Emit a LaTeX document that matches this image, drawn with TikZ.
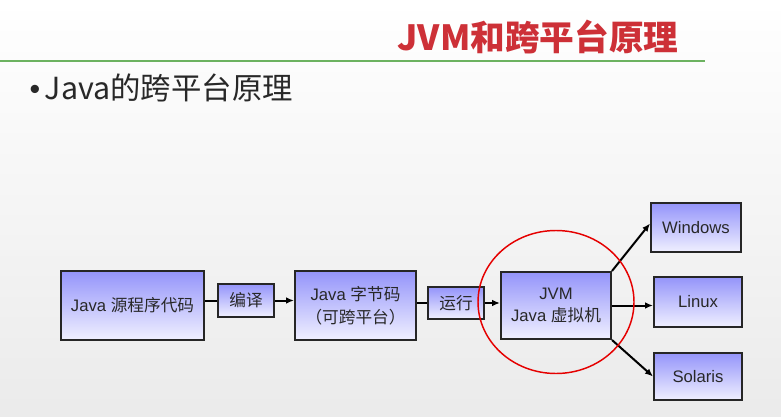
\documentclass[tikz,border=0pt]{standalone}
\usepackage{fontspec}
\setmainfont{Liberation Sans}
\newfontfamily\cjk{Noto Sans CJK SC}
\usetikzlibrary{arrows.meta}

\definecolor{boxtop}{RGB}{148,148,250}
\definecolor{boxbot}{RGB}{240,240,255}
\definecolor{titlered}{RGB}{205,48,55}
\definecolor{rulegreen}{RGB}{108,178,96}
\definecolor{ink}{RGB}{40,40,40}

\tikzset{every picture/.style={line width=0.75pt}}
\tikzset{
  box/.style={draw=black!85, line width=1.5pt, top color=boxtop, bottom color=boxbot,
    inner sep=0pt, align=center, text=ink, font=\fontsize{12.5}{17}\selectfont},
  link/.style={draw=black, line width=1.5pt},
  arr/.style={link, -{Latex[length=6pt,width=5pt]}}
}

\begin{document}
\begin{tikzpicture}[x=0.75pt,y=0.75pt,yscale=-1,xscale=1]
%background
\fill[top color=white, bottom color=black!8] (0,0) rectangle (781,417);
\useasboundingbox (0,0) rectangle (781,417);

% Title
\node (title) at (538,37) [text=titlered, font=\cjk\bfseries\fontsize{26}{30}\selectfont] {JVM和跨平台原理};
\draw [rulegreen, line width=1pt] (0,61) -- (705,61);
% Bullet
\node (point) at (29,88) [anchor=west, inner sep=0pt, text=ink, font=\cjk\fontsize{22.8}{26}\selectfont] {{\fontspec{Liberation Sans}•}\hspace{3.5pt}Java的跨平台原理};

% Boxes
\node (src) at (132.5,305.5) [box, minimum width=107.25pt, minimum height=51.75pt] {Java {\cjk 源程序代码}};
\node (bianyi) at (246,300.5) [box, minimum width=42pt, minimum height=24.75pt] {\cjk 编译};
\node (bytecode) at (355.5,305.5) [box, minimum width=90.75pt, minimum height=51.75pt] {Java {\cjk 字节码}\\{\cjk （可跨平台）}};
\node (yunxing) at (456,303) [box, minimum width=42pt, minimum height=24pt] {\cjk 运行};
\node (jvm) at (556,305.5) [box, minimum width=82.5pt, minimum height=50.25pt] {JVM\\Java {\cjk 虚拟机}};
\node (win) at (696,227.5) [box, minimum width=67.5pt, minimum height=36.75pt] {Windows};
\node (linux) at (698,302) [box, minimum width=66pt, minimum height=37.5pt] {Linux};
\node (solaris) at (698,376.5) [box, minimum width=66pt, minimum height=35.25pt] {Solaris};

% Connectors
\draw [link] (src.east |- bianyi.west) -- (bianyi.west);
\draw [arr] (bianyi.east) -- (bytecode.west |- bianyi.east);
\draw [link] (bytecode.east |- yunxing.west) -- (yunxing.west);
\draw [arr] (yunxing.east) -- (jvm.west |- yunxing.east);
\draw [arr] (jvm.north east) -- ([yshift=-3pt]win.west);
\draw [arr] (jvm.east) -- (linux.west |- jvm.east);
\draw [arr] (jvm.south east) -- (solaris.west);

% Highlight
\draw [red!90!black, line width=1.1pt] (556,302) ellipse (78 and 71.5);

\end{tikzpicture}
\end{document}
